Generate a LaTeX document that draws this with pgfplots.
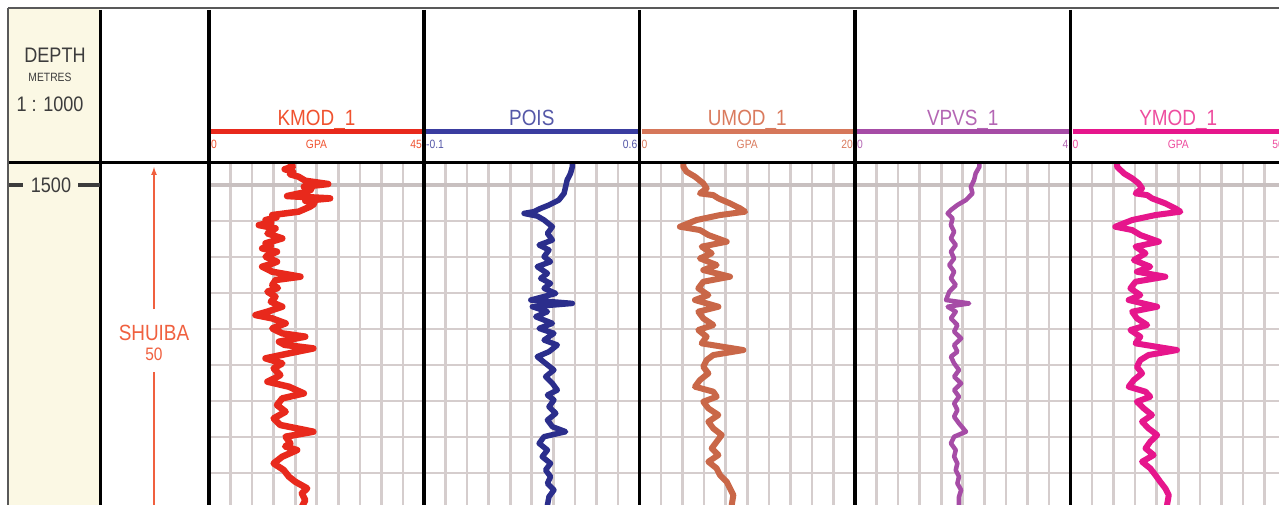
\documentclass[border=0pt]{standalone}
\usepackage{pgfplots}
\pgfplotsset{compat=1.18}
\usepackage{fontspec}
\setmainfont{Liberation Sans}
\usetikzlibrary{arrows.meta}
\definecolor{beige}{HTML}{FBF8E4}
\definecolor{gridA}{HTML}{C8C0C0}
\definecolor{gridB}{HTML}{D5CDCD}
\definecolor{txtgray}{HTML}{3C3C3C}
\definecolor{kmodc}{HTML}{E8291C}\definecolor{kmodt}{HTML}{F0522F}
\definecolor{poisc}{HTML}{2B2E8C}\definecolor{poist}{HTML}{5558A8}\definecolor{poisl}{HTML}{3A3DA0}
\definecolor{umodc}{HTML}{C96748}\definecolor{umodt}{HTML}{DA7B5E}\definecolor{umodl}{HTML}{D6775A}
\definecolor{vpvsc}{HTML}{A64CA6}\definecolor{vpvst}{HTML}{B466B4}
\definecolor{ymodc}{HTML}{E6168C}\definecolor{ymodt}{HTML}{EE4D9F}
\definecolor{zonec}{HTML}{F0603F}

\pgfplotsset{track/.style={scale only axis, width=215.5pt, height=342pt, anchor=north west,
  ymin=1496.94, ymax=1544.44, y dir=reverse,
  axis line style={draw=none}, tick style={draw=none},
  xticklabels={}, yticklabels={}, ytick={1505,1510,...,1540},
  extra y ticks={1500}, extra y tick labels={},
  extra y tick style={grid style={line width=4pt, color=gridA}},
  grid=major, grid style={line width=2.6pt, color=gridB}},
  curve/.style={line width=#1, line join=round, no marks}}

\newcommand{\T}[2]{\fontsize{#1}{#1}\selectfont\scalebox{0.86}[1]{#2}}

\begin{document}
\begin{tikzpicture}
\useasboundingbox (0pt,0pt) rectangle (1279pt,-505pt);
\clip (0pt,0pt) rectangle (1279pt,-505pt);
\fill[white] (0pt,0pt) rectangle (1279pt,-505pt);
\fill[beige] (9pt,-9pt) rectangle (100pt,-505pt);

% KMOD
\begin{axis}[track, at={(209pt,-163pt)}, xmin=0, xmax=45, xtick distance=4.5]
\addplot[curve=6.5pt, color=kmodc] table {
17.0 1496.9
17.5 1497.45
15.8 1497.8
17.6 1498.15
16.9 1498.5
18.7 1498.84
20.1 1499.40
24.9 1499.86
19.8 1500.23
21.4 1500.6
20.5 1500.93
16.3 1501.53
25.3 1501.85
20.1 1502.18
22.0 1502.6
21.1 1503.01
18.7 1503.70
13.2 1504.17
14.1 1504.5
11.8 1504.86
13.0 1505.2
10.4 1505.56
13.9 1506.02
12.2 1506.71
15.3 1507.41
11.8 1508.10
12.9 1508.45
11.1 1508.80
14.2 1509.26
11.8 1509.95
14.2 1510.65
12.8 1511.0
11.1 1511.34
13.2 1512.04
19.1 1512.73
13.9 1513.19
13.2 1513.89
14.4 1514.3
12.2 1514.81
13.9 1515.51
12.9 1516.20
15.3 1516.90
12.2 1517.59
9.7 1518.06
13.2 1518.52
16.0 1519.21
13.2 1519.91
15.3 1520.60
20.1 1521.06
14.6 1521.76
15.8 1522.2
21.8 1522.69
16.7 1523.38
11.8 1524.07
15.3 1524.77
13.5 1525.46
14.9 1526.39
13.8 1526.8
12.2 1527.31
16.7 1528.01
19.8 1528.94
15.3 1529.63
14.2 1530.56
16.0 1531.48
13.5 1532.41
14.9 1533.33
21.8 1534.26
16.0 1534.95
17.0 1535.88
15.9 1536.3
18.4 1536.81
15.3 1537.73
13.5 1538.66
15.6 1539.58
16.7 1540.51
18.0 1541.20
20.5 1542.13
19.4 1542.82
20.1 1543.75
19.4 1544.68
};
\end{axis}

% POIS
\begin{axis}[track, at={(424pt,-163pt)}, xmin=-0.1, xmax=0.6,
  xtick={-0.03,0.04,0.11,0.18,0.25,0.32,0.39,0.46,0.53}]
\addplot[curve=5.5pt, color=poisc] table {
0.382 1496.9
0.382 1497.45
0.376 1498.38
0.365 1499.31
0.360 1500.23
0.355 1501.16
0.338 1502.08
0.306 1502.78
0.279 1503.24
0.257 1503.70
0.225 1503.94
0.268 1504.31
0.290 1504.86
0.317 1505.79
0.301 1506.71
0.317 1507.64
0.274 1508.33
0.306 1509.03
0.290 1509.95
0.311 1510.65
0.268 1511.34
0.301 1512.27
0.279 1512.96
0.311 1513.66
0.290 1514.35
0.328 1515.05
0.247 1515.97
0.382 1516.44
0.252 1516.90
0.301 1517.59
0.263 1518.29
0.317 1519.21
0.274 1519.91
0.322 1520.60
0.290 1521.53
0.333 1522.22
0.306 1523.15
0.268 1523.84
0.295 1524.77
0.322 1525.69
0.295 1526.62
0.317 1527.55
0.333 1528.47
0.301 1529.17
0.322 1529.86
0.306 1530.79
0.328 1531.71
0.301 1532.64
0.317 1533.56
0.360 1534.26
0.290 1534.95
0.274 1535.88
0.301 1536.81
0.284 1537.73
0.311 1538.66
0.295 1539.58
0.311 1540.51
0.301 1541.44
0.322 1542.36
0.306 1543.29
0.301 1544.44
0.301 1544.7
};
\end{axis}

% UMOD
\begin{axis}[track, at={(639.5pt,-163pt)}, xmin=0, xmax=20, xtick distance=2]
\addplot[curve=6pt, color=umodc] table {
4.06 1496.9
4.06 1497.45
4.37 1498.15
5.15 1498.84
5.92 1499.77
6.23 1500.46
5.61 1501.16
6.85 1501.40
7.32 1501.85
8.40 1502.55
9.33 1503.24
9.80 1503.70
7.47 1504.17
5.30 1504.86
3.75 1505.79
5.61 1506.25
6.39 1506.94
8.09 1507.87
5.77 1508.56
6.70 1509.49
5.61 1510.19
7.16 1511.11
5.92 1511.81
8.40 1512.73
5.92 1513.43
5.46 1514.35
6.39 1515.28
5.15 1515.97
7.32 1516.90
5.46 1517.59
5.92 1518.52
6.85 1519.44
5.46 1520.14
6.23 1521.06
5.77 1521.99
9.64 1522.92
6.85 1523.61
6.23 1524.31
5.92 1525.23
6.39 1526.16
5.61 1527.08
5.15 1528.01
6.85 1528.70
7.16 1529.40
5.92 1530.09
6.39 1531.02
7.32 1531.94
6.39 1532.87
6.85 1533.80
7.63 1534.72
7.16 1535.65
6.70 1536.57
7.32 1537.50
6.39 1538.43
7.16 1539.35
7.47 1540.28
8.09 1541.20
8.40 1542.13
8.71 1543.06
8.56 1544.44
8.56 1544.7
};
\end{axis}

% VPVS
\begin{axis}[track, at={(855pt,-163pt)}, xmin=0, xmax=4, xtick distance=0.4]
\addplot[curve=4.5pt, color=vpvsc] table {
2.31 1496.9
2.31 1497.45
2.24 1498.38
2.21 1499.31
2.15 1500.23
2.18 1501.16
2.06 1502.08
1.90 1502.78
1.78 1503.47
1.72 1503.94
1.81 1504.63
1.78 1505.56
1.84 1506.48
1.78 1507.41
1.87 1508.33
1.78 1509.26
1.84 1510.19
1.75 1511.11
1.84 1512.04
1.78 1512.96
1.87 1513.89
1.75 1514.81
1.69 1515.97
2.12 1516.44
1.72 1516.90
1.87 1517.59
1.78 1518.52
1.90 1519.44
1.84 1520.37
1.97 1521.30
1.84 1522.22
1.90 1523.15
1.78 1523.84
1.84 1524.77
1.93 1525.69
1.84 1526.62
1.97 1527.55
1.84 1528.47
1.93 1529.40
1.84 1530.32
1.90 1531.25
1.84 1532.18
1.93 1533.10
2.06 1534.26
1.84 1534.95
1.78 1535.88
1.87 1536.81
1.84 1537.73
1.90 1538.66
1.87 1539.58
1.93 1540.51
1.90 1541.44
1.97 1542.36
1.93 1543.29
1.93 1544.7
};
\end{axis}

% YMOD
\begin{axis}[track, at={(1070.5pt,-163pt)}, xmin=0, xmax=50, xtick distance=5]
\addplot[curve=6pt, color=ymodc] table {
10.8 1496.9
10.8 1497.45
12.4 1498.38
14.3 1499.07
15.8 1499.77
16.6 1500.46
15.1 1501.16
17.8 1501.40
18.9 1501.85
22.0 1502.55
24.3 1503.24
25.5 1503.70
19.7 1504.17
14.3 1504.86
10.4 1505.79
14.3 1506.25
16.2 1506.94
20.5 1507.87
15.1 1508.56
17.4 1509.49
14.7 1510.42
18.5 1511.34
15.4 1512.04
22.0 1512.73
15.1 1513.43
13.9 1514.35
16.2 1515.28
13.5 1515.97
20.1 1516.90
14.3 1517.59
15.4 1518.52
17.8 1519.44
13.9 1520.14
16.2 1521.06
15.1 1521.99
24.7 1522.92
18.1 1523.61
16.2 1524.31
15.4 1525.23
16.6 1526.16
14.7 1527.08
13.5 1528.01
17.4 1528.70
18.5 1529.40
15.4 1530.09
17.0 1531.02
18.9 1531.94
16.6 1532.87
18.1 1533.80
20.1 1534.72
18.5 1535.65
17.4 1536.57
19.3 1537.50
16.6 1538.43
18.5 1539.35
19.7 1540.28
20.8 1541.20
22.0 1542.13
22.8 1543.06
22.4 1544.44
22.4 1544.7
};
\end{axis}

% frame and separators
\draw[black!65, line width=2pt] (8pt,-8pt) -- (1279pt,-8pt);
\draw[black!65, line width=2pt] (8pt,-8pt) -- (8pt,-505pt);
\foreach \x in {100.5,209,424,639.5,855,1070.5}
  \draw[black, line width=3.8pt] (\x pt,-10pt) -- (\x pt,-505pt);
\draw[black, line width=3.8pt] (9pt,-162.5pt) -- (1279pt,-162.5pt);

% depth header
\node[anchor=base, text=txtgray] at (55pt,-63pt) {\T{21}{DEPTH}};
\node[anchor=base, text=txtgray] at (50pt,-82pt) {\T{12}{METRES}};
\node[anchor=base, text=txtgray] at (50pt,-112pt) {\T{21}{1 : 1000}};
% depth 1500
\draw[txtgray, line width=4pt] (9pt,-185pt) -- (23pt,-185pt);
\draw[txtgray, line width=4pt] (78pt,-185pt) -- (100pt,-185pt);
\node[anchor=base, text=txtgray] at (51pt,-193pt) {\T{21}{1500}};

% zone
\draw[zonec, line width=2pt, -{Latex[length=9pt,width=6pt]}] (154pt,-309pt) -- (154pt,-166pt);
\draw[zonec, line width=2pt] (154pt,-372pt) -- (154pt,-505pt);
\node[anchor=base, text=zonec] at (154pt,-340pt) {\T{22}{SHUIBA}};
\node[anchor=base, text=zonec] at (154pt,-360pt) {\T{18}{50}};

% track headers
\newcommand{\trackhead}[8]{%
  \node[anchor=base, text=#4] at ({(#1+#2)/2*1pt},-126pt) {\T{22}{#3}};
  \draw[#5, line width=5pt] (#1pt+2pt,-132pt) -- (#2pt-2pt,-132pt);
  \node[anchor=base west, text=#4, inner sep=0pt] at (#1pt+2pt,-149pt) {\T{12}{#6}};
  \node[anchor=base, text=#4, inner sep=0pt] at ({(#1+#2)/2*1pt},-149pt) {\T{12}{#7}};
  \node[anchor=base east, text=#4, inner sep=0pt] at (#2pt-2pt,-149pt) {\T{12}{#8}};}
\trackhead{209}{424}{KMOD\_1}{kmodt}{kmodc}{0}{GPA}{45}
\trackhead{424}{639.5}{POIS}{poist}{poisl}{-0.1}{}{0.6}
\trackhead{639.5}{855}{UMOD\_1}{umodt}{umodl}{0}{GPA}{20}
\trackhead{855}{1070.5}{VPVS\_1}{vpvst}{vpvsc}{0}{}{4}
\trackhead{1070.5}{1286}{YMOD\_1}{ymodt}{ymodc}{0}{GPA}{50}
\end{tikzpicture}
\end{document}
